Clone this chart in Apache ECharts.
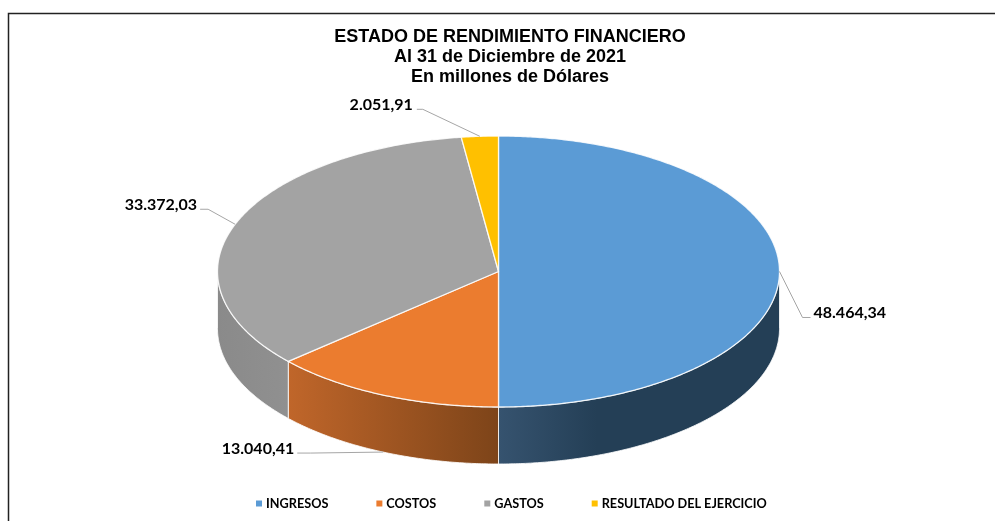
<!DOCTYPE html>
<html>
<head>
<meta charset="utf-8">
<style>html,body{margin:0;padding:0;background:#fff}#c{width:995px;height:521px}</style>
<script src="https://cdn.jsdelivr.net/npm/echarts@6/dist/echarts.min.js"></script>
</head>
<body>
<div id="c"></div>
<script>
var categories = ['INGRESOS', 'COSTOS', 'GASTOS', 'RESULTADO DEL EJERCICIO'];
var values = [48464.34, 13040.41, 33372.03, 2051.91];
var valueLabels = ['48.464,34', '13.040,41', '33.372,03', '2.051,91'];
var titleLines = ['ESTADO DE RENDIMIENTO FINANCIERO', 'Al 31 de Diciembre de 2021', 'En millones de Dólares'];
var topColors = ['#5b9bd5', '#eb7c2f', '#a3a3a3', '#ffc000'];
var wallStops = [
  [[0, '#36536f'], [0.35, '#243f56'], [1, '#243f56']],
  [[0, '#c0662a'], [1, '#7d4419']],
  [[0, '#8a8a8a'], [1, '#909090']],
  [[0, '#997300'], [1, '#997300']]
];

/* ellipse geometry */
var CX = 498.5, CY = 271.5, RX = 281, RY = 135.5, DEPTH = 57;
/* leader layout: elbow and end relative to the slice anchor, anchor on rim bottom or top */
var leaders = [
  {elbow: [23, 46], end: [31, 46], text: [34, 41], align: 'left', onWall: false},
  {elbow: [-73, 1], end: [-86, 1], text: [-89, -3], align: 'right', onWall: true},
  {elbow: [-27, -15], end: [-35, -15], text: [-38, -19], align: 'right', onWall: false},
  {elbow: [-57, -27], end: [-63, -27], text: [-67, -31], align: 'right', onWall: false}
];

var total = values.reduce(function (a, b) { return a + b; }, 0);
function pt(deg, dy) {
  var r = deg * Math.PI / 180;
  return [CX + RX * Math.sin(r), CY - RY * Math.cos(r) + (dy || 0)];
}
function startDeg(i) {
  var s = 0;
  for (var k = 0; k < i; k++) s += values[k];
  return s / total * 360;
}

function makeRender(i) {
  return function (params, api) {
    var v = api.value(0);
    var s = startDeg(i), e = s + v / total * 360;
    var children = [];
    var a, step = 0.5;

    // side wall: only the front half of the rim faces the viewer
    var ws = Math.max(s, 90), we = Math.min(e, 270);
    if (we > ws) {
      var upper = [], lower = [];
      for (a = ws; a < we; a += step) { upper.push(pt(a)); lower.unshift(pt(a, DEPTH)); }
      upper.push(pt(we)); lower.unshift(pt(we, DEPTH));
      children.push({
        type: 'polygon', z2: 1,
        shape: {points: upper.concat(lower)},
        style: {
          fill: {type: 'linear', x: 0, y: 0, x2: 1, y2: 0,
            colorStops: wallStops[i].map(function (c) { return {offset: c[0], color: c[1]}; })},
          stroke: '#ffffff', lineWidth: 1, lineJoin: 'round', strokeOpacity: 0.8
        }
      });
    }

    // top face
    var pts = [[CX, CY]];
    for (a = s; a < e; a += step) pts.push(pt(a));
    pts.push(pt(e));
    children.push({
      type: 'polygon', z2: 2,
      shape: {points: pts},
      style: {fill: topColors[i], stroke: '#ffffff', lineWidth: 1.3, lineJoin: 'round', strokeOpacity: 0.85}
    });

    // leader line and value label
    var L = leaders[i];
    var anchor = pt((s + e) / 2, L.onWall ? DEPTH : 0);
    children.push({
      type: 'polyline', z2: 3,
      shape: {points: [anchor,
        [anchor[0] + L.elbow[0], anchor[1] + L.elbow[1]],
        [anchor[0] + L.end[0], anchor[1] + L.end[1]]]},
      style: {fill: null, stroke: '#a6a6a6', lineWidth: 1}
    });
    children.push({
      type: 'text', z2: 4,
      x: anchor[0] + L.text[0], y: anchor[1] + L.text[1],
      style: {
        text: valueLabels[i], fill: '#000000',
        font: 'bold 16px Lato, sans-serif',
        align: L.align, verticalAlign: 'middle'
      }
    });
    return {type: 'group', children: children};
  };
}

var series = categories.map(function (name, i) {
  return {
    type: 'custom', name: name, coordinateSystem: 'none',
    data: [[values[i]]],
    itemStyle: {color: topColors[i]},
    renderItem: makeRender(i),
    silent: true, animation: false, clip: false
  };
});

var chart = echarts.init(document.getElementById('c'), null, {renderer: 'canvas'});
chart.setOption({
  backgroundColor: '#ffffff',
  animation: false,
  title: {
    text: titleLines.join('\n'),
    left: 510, top: 27, textAlign: 'center', padding: 0,
    textStyle: {fontFamily: '"Liberation Sans", Arial, sans-serif', fontWeight: 'bold', fontSize: 18, lineHeight: 20, color: '#000000'}
  },
  legend: {
    data: categories,
    left: 256, top: 497, padding: 0,
    icon: 'rect', itemWidth: 6, itemHeight: 6, itemGap: 48,
    selectedMode: false,
    textStyle: {fontFamily: 'Lato, sans-serif', fontWeight: 'bold', fontSize: 12.7, color: '#000000', padding: [0, 0, 0, -1]}
  },
  graphic: [{
    type: 'polyline',
    shape: {points: [[8.5, 521], [8.5, 13.5], [995, 13.5]]},
    style: {fill: null, stroke: '#222222', lineWidth: 1.5}
  }],
  series: series
});
</script>
</body>
</html>
